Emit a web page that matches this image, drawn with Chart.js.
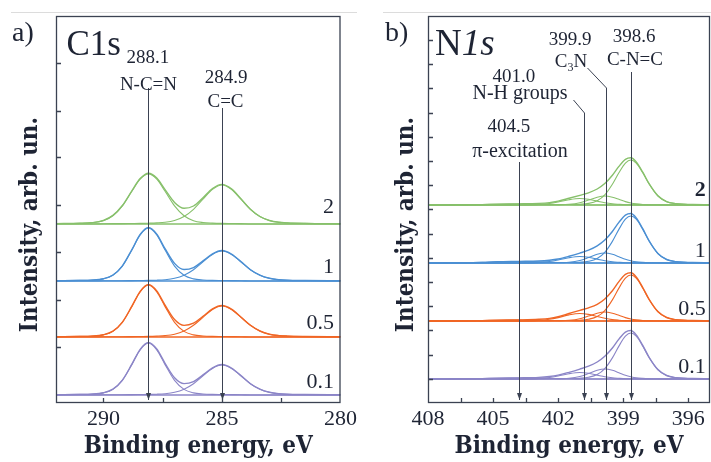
<!DOCTYPE html>
<html>
<head>
<meta charset="utf-8">
<script src="https://cdn.jsdelivr.net/npm/chart.js@4.4.1/dist/chart.umd.min.js"></script>
<style>
  body { margin: 0; background: #fff; width: 711px; height: 462px; overflow: hidden; position: relative; }
  canvas { position: absolute; top: 0; }
  #ca { left: 0; }
  #cb { left: 360px; }
  .rule { position: absolute; top: 12px; height: 1px; background: #dcdcdc; }
</style>
</head>
<body>
<div class="rule" style="left:11px;width:346px"></div>
<div class="rule" style="left:383px;width:328px"></div>
<canvas id="ca" width="360" height="462"></canvas>
<canvas id="cb" width="351" height="462"></canvas>
<script>
const INK = '#1e2434';
const LINE = '#3b4252';
const FONT = '"Liberation Serif", serif';
const TITLE_FONT = '"DejaVu Serif Condensed", "DejaVu Serif", serif';

// samples, bottom to top
const SAMPLES = ['0.1', '0.5', '1', '2'];
const COLORS = ['#8b85c7', '#f06625', '#4b8fd3', '#87c06b'];

// ---- C1s panel ----
const C1S_E = [292.0, 291.0, 290.5, 290.0, 289.6, 289.2, 288.8, 288.45, 288.1, 287.75, 287.4, 287.0, 286.6,
               286.2, 285.8, 285.4, 285.0, 284.6, 284.2, 283.8, 283.4, 283.0, 282.6, 282.25, 281.5, 280.0];
const C1S_BASE = [8, 66, 122, 179];
const C1S_XTICKS = [290, 287.5, 285, 282.5, 280];
const C1S_YTICKS = [56, 103, 151, 198, 246, 292, 340];

const C1S_ENV_01 = [0.3,0.6,0.9,2.3,5.9,14.9,30.8,45.7,52.6,46.0,31.7,17.3,11.4,13.4,20.1,27.2,30.5,27.0,19.4,11.3,5.8,2.7,1.3,0.8,0.5,0.2];
const C1S_288_01 = [0.3,0.6,0.9,2.1,5.6,14.6,30.4,45.2,52,45.2,30.4,14.6,5.6,2.1,1.0,0.6,0.5,0.4,0.3,0,0,0,0,0,0,0];
const C1S_285_01 = [0,0,0,0.2,0.3,0.3,0.4,0.5,0.6,0.8,1.3,2.7,5.8,11.3,19.1,26.6,30,26.6,19.1,11.3,5.8,2.7,1.3,0.8,0.5,0.2];

const C1S_ENV_05 = [0.3,0.6,0.9,2.3,5.9,14.9,30.8,45.7,52.6,46.1,31.8,17.4,11.6,13.8,20.7,28.1,31.5,27.9,20.0,11.7,6.0,2.8,1.4,0.9,0.5,0.2];
const C1S_288_05 = [0.3,0.6,0.9,2.1,5.6,14.6,30.4,45.2,52,45.2,30.4,14.6,5.6,2.1,1.0,0.6,0.5,0.4,0.3,0,0,0,0,0,0,0];
const C1S_285_05 = [0,0,0,0.2,0.3,0.3,0.4,0.5,0.6,0.9,1.4,2.8,6.0,11.7,19.7,27.5,31,27.5,19.7,11.7,6.0,2.8,1.4,0.9,0.5,0.2];

const C1S_ENV_1 = [0.3,0.6,0.9,2.3,6.0,15.2,31.4,46.6,53.6,46.9,32.3,17.6,11.5,13.4,20.1,27.2,30.5,27.0,19.4,11.3,5.8,2.7,1.3,0.8,0.5,0.2];
const C1S_288_1 = [0.3,0.6,0.9,2.1,5.7,14.9,31.0,46.1,53,46.1,31.0,14.9,5.7,2.1,1.0,0.6,0.5,0.4,0.3,0,0,0,0,0,0,0];
const C1S_285_1 = [0,0,0,0.2,0.3,0.3,0.4,0.5,0.6,0.8,1.3,2.7,5.8,11.3,19.1,26.6,30,26.6,19.1,11.3,5.8,2.7,1.3,0.8,0.5,0.2];

const C1S_ENV_2 = [0.4,0.7,1.3,3.6,8.6,18.5,33.2,45.4,50.8,45.9,34.4,21.6,15.7,18.0,26.3,35.5,39.6,35.1,25.2,14.7,7.5,3.5,1.7,1.1,0.6,0.3];
const C1S_288_2 = [0.4,0.7,1.3,3.3,8.2,18.1,32.7,44.8,50,44.8,32.7,18.1,8.2,3.3,1.5,0.9,0.6,0.5,0.4,0,0,0,0,0,0,0];
const C1S_285_2 = [0,0,0,0.3,0.4,0.4,0.5,0.6,0.8,1.1,1.7,3.5,7.5,14.7,24.8,34.6,39,34.6,24.8,14.7,7.5,3.5,1.7,1.1,0.6,0.3];

// ---- N1s panel ----
const N1S_E = [408, 406.5, 405.5, 404.8, 403.8, 402.9, 402.4, 402.0, 401.5, 401.0, 400.6, 400.2, 399.85,
               399.5, 399.2, 398.9, 398.65, 398.4, 398.1, 397.8, 397.4, 397.0, 396.6, 396.2, 395.8, 395];
const N1S_BASE = [24, 82, 140, 198];
const N1S_XTICKS = [408, 406.5, 405, 403.5, 402, 400.5, 399, 397.5, 396];
const N1S_YTICKS = [24, 48, 73, 97, 121, 145, 169, 194, 218, 242, 266, 290, 315, 339, 363];

const N1S_ENV_01 = [0,0.1,0.4,0.8,1.1,1.6,2.5,3.9,6.7,9.9,12.8,17.0,22.7,31.0,39.9,46.9,48.5,44.1,33.6,21.5,9.4,3.5,1.4,0.8,0.5,0.3];
const N1S_986_01 = [0,0,0,0,0,0.2,0.3,0.3,0.5,0.8,1.7,4.4,10.4,21.1,32.9,42.8,46,42.8,32.9,21.1,9.2,3.4,1.4,0.8,0.5,0.3];
const N1S_999_01 = [0,0,0,0,0,0.1,0.2,0.2,0.7,2.5,5.4,8.7,10,8.7,6.3,3.8,2.3,1.2,0.6,0.3,0.2,0.1,0,0,0,0];
const N1S_010_01 = [0,0,0,0,0.1,0.5,1.5,3.0,5.3,6.5,5.7,3.9,2.3,1.2,0.7,0.3,0.2,0.1,0.1,0.1,0,0,0,0,0,0];
const N1S_045_01 = [0,0.1,0.4,0.8,1,0.8,0.5,0.4,0.2,0.1,0,0,0,0,0,0,0,0,0,0,0,0,0,0,0,0];

const N1S_ENV_05 = [0,0.1,0.4,0.8,1.1,1.7,2.6,4.3,7.5,10.7,13.2,16.7,22.1,30.3,39.4,46.6,48.2,44.1,33.5,21.5,9.4,3.5,1.4,0.8,0.5,0.3];
const N1S_986_05 = [0,0,0,0,0,0.2,0.3,0.3,0.5,0.8,1.7,4.4,10.4,21.1,32.9,42.8,46,42.8,32.9,21.1,9.2,3.4,1.4,0.8,0.5,0.3];
const N1S_999_05 = [0,0,0,0,0,0.1,0.1,0.2,0.7,2.3,4.9,7.8,9,7.8,5.7,3.4,2.0,1.1,0.5,0.3,0.2,0.1,0,0,0,0];
const N1S_010_05 = [0,0,0,0,0.1,0.6,1.7,3.4,6.1,7.5,6.6,4.5,2.7,1.4,0.8,0.4,0.2,0.2,0.1,0.1,0,0,0,0,0,0];
const N1S_045_05 = [0,0.1,0.4,0.8,1,0.8,0.5,0.4,0.2,0.1,0,0,0,0,0,0,0,0,0,0,0,0,0,0,0,0];

const N1S_ENV_1 = [0,0.2,0.6,1.2,1.6,2.0,2.8,4.0,6.7,9.9,12.8,17.1,22.9,31.5,40.6,47.9,49.5,45.1,34.3,22.0,9.6,3.5,1.4,0.8,0.5,0.3];
const N1S_986_1 = [0,0,0,0,0,0.2,0.3,0.3,0.5,0.8,1.7,4.5,10.6,21.6,33.6,43.8,47,43.8,33.6,21.6,9.4,3.4,1.4,0.8,0.5,0.3];
const N1S_999_1 = [0,0,0,0,0,0.1,0.2,0.2,0.7,2.5,5.4,8.7,10,8.7,6.3,3.8,2.3,1.2,0.6,0.3,0.2,0.1,0,0,0,0];
const N1S_010_1 = [0,0,0,0,0.1,0.5,1.5,3.0,5.3,6.5,5.7,3.9,2.3,1.2,0.7,0.3,0.2,0.1,0.1,0.1,0,0,0,0,0,0];
const N1S_045_1 = [0,0.2,0.6,1.2,1.5,1.2,0.8,0.5,0.2,0.1,0,0,0,0,0,0,0,0,0,0,0,0,0,0,0,0];

const N1S_ENV_2 = [0,0.1,0.4,0.8,1.1,1.6,2.4,3.9,6.7,9.7,12.2,16.0,21.4,29.7,38.6,45.6,47.2,43.1,32.8,21.1,9.2,3.4,1.4,0.8,0.5,0.3];
const N1S_986_2 = [0,0,0,0,0,0.2,0.3,0.3,0.5,0.8,1.6,4.3,10.1,20.7,32.2,41.9,45,41.9,32.2,20.7,9,3.3,1.4,0.8,0.5,0.3];
const N1S_999_2 = [0,0,0,0,0,0.1,0.1,0.2,0.7,2.3,4.9,7.8,9,7.8,5.7,3.4,2.0,1.1,0.5,0.3,0.2,0.1,0,0,0,0];
const N1S_010_2 = [0,0,0,0,0.1,0.5,1.5,3.0,5.3,6.5,5.7,3.9,2.3,1.2,0.7,0.3,0.2,0.1,0.1,0.1,0,0,0,0,0,0];
const N1S_045_2 = [0,0.1,0.4,0.8,1,0.8,0.5,0.4,0.2,0.1,0,0,0,0,0,0,0,0,0,0,0,0,0,0,0,0];

// annotations (x in eV, y in intensity units)
const C1S_ARROWS = [
  [[288.1, 315], [288.1, 3]],
  [[285.0, 295], [285.0, 3]]
];
const C1S_LABELS = [
  {x: 291.56, y: 348, size: 35, align: 'left', parts: [{t: 'C1s'}]},
  {x: 288.12, y: 340, size: 19, parts: [{t: '288.1'}]},
  {x: 288.1, y: 313, size: 19, parts: [{t: 'N-C=N'}]},
  {x: 284.82, y: 320, size: 19, parts: [{t: '284.9'}]},
  {x: 284.85, y: 296, size: 19, parts: [{t: 'C=C'}]},
  {x: 280.27, y: 190, size: 22, align: 'right', parts: [{t: '2'}]},
  {x: 280.27, y: 130, size: 22, align: 'right', parts: [{t: '1'}]},
  {x: 280.27, y: 74, size: 22, align: 'right', parts: [{t: '0.5'}]},
  {x: 280.27, y: 15, size: 22, align: 'right', parts: [{t: '0.1'}]}
];
const N1S_ARROWS = [
  [[403.8, 241], [403.8, 3]],
  [[401.31, 303], [400.81, 290], [400.81, 3]],
  [[400.67, 335], [399.79, 315], [399.79, 3]],
  [[398.64, 331], [398.64, 3]]
];
const N1S_LABELS = [
  {x: 407.68, y: 348, size: 37, align: 'left', parts: [{t: 'N'}, {t: '1s', italic: true}]},
  {x: 401.45, y: 358, size: 19, parts: [{t: '399.9'}]},
  {x: 398.5, y: 361, size: 19, parts: [{t: '398.6'}]},
  {x: 398.46, y: 338, size: 19, parts: [{t: 'C-N=C'}]},
  {x: 401.41, y: 336, size: 19, parts: [{t: 'C'}, {t: '3', sub: true}, {t: 'N'}]},
  {x: 404.04, y: 321, size: 19, parts: [{t: '401.0'}]},
  {x: 403.76, y: 304, size: 20, parts: [{t: 'N-H groups'}]},
  {x: 404.27, y: 271, size: 19, parts: [{t: '404.5'}]},
  {x: 403.76, y: 246, size: 20, parts: [{t: 'π-excitation'}]},
  {x: 395.2, y: 207, size: 22, align: 'right', parts: [{t: '2', bold: true}]},
  {x: 395.2, y: 146, size: 22, align: 'right', parts: [{t: '1'}]},
  {x: 395.2, y: 88, size: 22, align: 'right', parts: [{t: '0.5'}]},
  {x: 395.2, y: 30, size: 22, align: 'right', parts: [{t: '0.1'}]}
];

function curve(xs, ys, base, color, width) {
  return {
    data: xs.map((x, i) => ({x: x, y: base + ys[i]})),
    borderColor: color, borderWidth: width, pointRadius: 0,
    cubicInterpolationMode: 'monotone', fill: false
  };
}
function flat(x0, x1, base, color) {
  return {data: [{x: x0, y: base}, {x: x1, y: base}], borderColor: color, borderWidth: 1.6, pointRadius: 0};
}
function buildSets(xs, bases, groups, x0, x1) {
  const out = [];
  groups.forEach((g, k) => {
    out.push(flat(x0, x1, bases[k], COLORS[k]));
    g.forEach((ys, j) => out.push(curve(xs, ys, bases[k], COLORS[k], j === 0 ? 1.4 : 1.1)));
  });
  return out;
}

const setsA = buildSets(C1S_E, C1S_BASE, [
  [C1S_ENV_01, C1S_288_01, C1S_285_01],
  [C1S_ENV_05, C1S_288_05, C1S_285_05],
  [C1S_ENV_1, C1S_288_1, C1S_285_1],
  [C1S_ENV_2, C1S_288_2, C1S_285_2]
], 280, 292);
const setsB = buildSets(N1S_E, N1S_BASE, [
  [N1S_ENV_01, N1S_986_01, N1S_999_01, N1S_010_01, N1S_045_01],
  [N1S_ENV_05, N1S_986_05, N1S_999_05, N1S_010_05, N1S_045_05],
  [N1S_ENV_1, N1S_986_1, N1S_999_1, N1S_010_1, N1S_045_1],
  [N1S_ENV_2, N1S_986_2, N1S_999_2, N1S_010_2, N1S_045_2]
], 395, 408);

function partFont(p, size) {
  const s = p.sub ? Math.round(size * 0.62) : size;
  return (p.italic ? 'italic ' : '') + (p.bold ? 'bold ' : '') + s + 'px ' + FONT;
}

// frame, inward ticks, arrows and labels
const decor = {
  id: 'decor',
  afterDatasetsDraw(chart, args, o) {
    const {ctx, chartArea: a, scales: {x, y}} = chart;
    ctx.save();
    ctx.strokeStyle = LINE;
    ctx.fillStyle = LINE;
    ctx.lineWidth = 1;
    o.arrows.forEach(pts => {
      ctx.beginPath();
      pts.forEach((p, i) => {
        const px = Math.round(x.getPixelForValue(p[0])) + 0.5, py = y.getPixelForValue(p[1]);
        if (i === 0) ctx.moveTo(px, py); else ctx.lineTo(px, py);
      });
      ctx.stroke();
      const tip = pts[pts.length - 1];
      const tx = Math.round(x.getPixelForValue(tip[0])) + 0.5, ty = y.getPixelForValue(tip[1]);
      ctx.beginPath();
      ctx.moveTo(tx, ty);
      ctx.lineTo(tx - 2.5, ty - 7);
      ctx.lineTo(tx + 2.5, ty - 7);
      ctx.closePath();
      ctx.fill();
    });
    ctx.lineWidth = 1.3;
    ctx.strokeRect(a.left + 0.5, a.top + 0.5, a.right - a.left - 1, a.bottom - a.top - 1);
    ctx.beginPath();
    x.ticks.forEach(t => {
      const px = Math.round(x.getPixelForValue(t.value)) + 0.5;
      if (px - a.left < 2 || a.right - px < 2) return;
      ctx.moveTo(px, a.bottom); ctx.lineTo(px, a.bottom - 5);
    });
    y.ticks.forEach(t => {
      const py = Math.round(y.getPixelForValue(t.value)) + 0.5;
      ctx.moveTo(a.left, py); ctx.lineTo(a.left + 5, py);
    });
    ctx.stroke();

    ctx.fillStyle = INK;
    ctx.textBaseline = 'alphabetic';
    ctx.textAlign = 'left';
    o.labels.forEach(l => {
      let w = 0;
      l.parts.forEach(p => { ctx.font = partFont(p, l.size); w += ctx.measureText(p.t).width; });
      let px = x.getPixelForValue(l.x);
      if (l.align === 'right') px -= w;
      else if (l.align !== 'left') px -= w / 2;
      const py = y.getPixelForValue(l.y);
      l.parts.forEach(p => {
        ctx.font = partFont(p, l.size);
        ctx.fillText(p.t, px, p.sub ? py + l.size * 0.22 : py);
        px += ctx.measureText(p.t).width;
      });
    });
    ctx.font = '28px ' + FONT;
    ctx.fillText(o.tag[0], o.tag[1], o.tag[2]);
    ctx.restore();
  }
};

function makeChart(id, sets, xmin, xmax, xticks, yticks, step, yTitlePad, yWidth, padRight, arrows, labels, tag) {
  return new Chart(document.getElementById(id), {
    type: 'line',
    data: {datasets: sets},
    options: {
      responsive: false,
      animation: false,
      devicePixelRatio: 1,
      layout: {padding: {left: 0, right: padRight, top: 16, bottom: 0}},
      plugins: {
        legend: {display: false},
        tooltip: {enabled: false},
        decor: {arrows: arrows, labels: labels, tag: tag}
      },
      scales: {
        x: {
          type: 'linear', min: xmin, max: xmax, reverse: true,
          afterBuildTicks: s => { s.ticks = xticks.map(v => ({value: v})); },
          afterFit: s => { s.height = 59; },
          grid: {display: false, drawTicks: false},
          border: {display: false},
          ticks: {
            font: {family: FONT, size: 22}, color: INK, padding: 3,
            autoSkip: false, maxRotation: 0,
            callback: v => (Math.abs(v % step) < 1e-6 ? String(v) : '')
          },
          title: {
            display: true, text: 'Binding energy, eV', color: INK,
            font: {family: TITLE_FONT, size: 24, weight: 'bold', lineHeight: 1},
            padding: {top: 0, bottom: 3}
          }
        },
        y: {
          min: 0, max: 387,
          afterBuildTicks: s => { s.ticks = yticks.map(v => ({value: v})); },
          afterFit: s => { s.width = yWidth; },
          grid: {display: false, drawTicks: false},
          border: {display: false},
          ticks: {display: false},
          title: {
            display: true, text: 'Intensity, arb. un.    ', color: INK,
            font: {family: TITLE_FONT, size: 24, weight: 'bold', lineHeight: 1},
            padding: {top: yTitlePad, bottom: 0}
          }
        }
      }
    },
    plugins: [decor]
  });
}

makeChart('ca', setsA, 280, 292, C1S_XTICKS, C1S_YTICKS, 5, 19, 56, 19.5, C1S_ARROWS, C1S_LABELS, ['a)', 12, 41]);
makeChart('cb', setsB, 395, 408, N1S_XTICKS, N1S_YTICKS, 3, 35, 68, 1, N1S_ARROWS, N1S_LABELS, ['b)', 25, 41]);
</script>
</body>
</html>
